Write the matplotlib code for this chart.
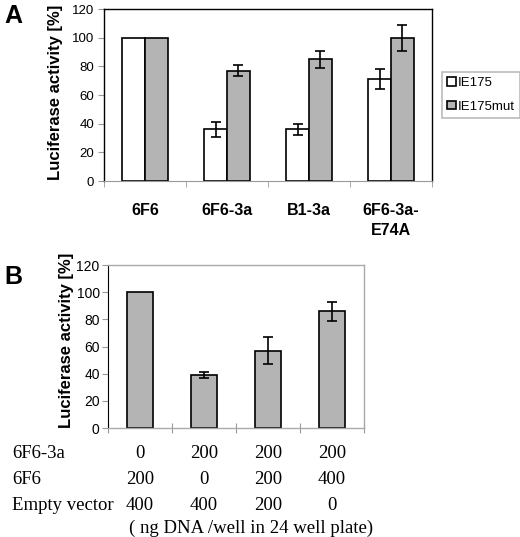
import numpy as np
import matplotlib
matplotlib.use('Agg')
import matplotlib.pyplot as plt

# panel A data
cats_a = ['6F6', '6F6-3a', 'B1-3a', '6F6-3a-\nE74A']
ie175 = [100, 36, 36, 71]
ie175_err = [0, 5, 4, 7]
ie175mut = [100, 77, 85, 100]
ie175mut_err = [0, 4, 6, 9]

# panel B data
vals_b = [100, 39, 57, 86]
err_b = [0, 2, 10, 7]
row_names = ['6F6-3a', '6F6', 'Empty vector']
row_3a = ['0', '200', '200', '200']
row_6f6 = ['200', '0', '200', '400']
row_empty = ['400', '400', '200', '0']
note = '( ng DNA /well in 24 well plate)'

GREY = '#b4b4b4'
W, H = 520, 537
fig = plt.figure(figsize=(5.2, 5.37), dpi=100)
sans = ['Liberation Sans', 'DejaVu Sans']
serif = ['Liberation Serif', 'DejaVu Serif']

def box(l, t, r, b):
    return [l / W, 1 - b / H, (r - l) / W, (b - t) / H]

# ---- panel A
ax_a = fig.add_axes(box(104, 9, 432, 181))
xa = np.arange(len(cats_a))
bw = 0.28
ekw = dict(elinewidth=1.2, capthick=1.2)
ax_a.bar(xa - bw/2, ie175, bw, color='white', edgecolor='black', lw=1.2, label='IE175')
ax_a.bar(xa + bw/2, ie175mut, bw, color=GREY, edgecolor='black', lw=1.2, label='IE175mut')
m = np.array(ie175_err) > 0
ax_a.errorbar((xa - bw/2)[m], np.array(ie175)[m], yerr=np.array(ie175_err)[m],
              fmt='none', ecolor='black', capsize=3.5, **ekw)
m = np.array(ie175mut_err) > 0
ax_a.errorbar((xa + bw/2)[m], np.array(ie175mut)[m], yerr=np.array(ie175mut_err)[m],
              fmt='none', ecolor='black', capsize=3.5, **ekw)
ax_a.set_xlim(-0.5, 3.5)
ax_a.set_ylim(0, 120)
ax_a.set_yticks(range(0, 121, 20))
ax_a.set_xticks(xa)
ax_a.set_xticklabels(cats_a, fontsize=11.5, fontweight='bold', family=sans, linespacing=1.4)
ax_a.set_xticks(np.arange(-0.5, 4, 1), minor=True)
ax_a.tick_params(axis='x', which='major', length=0, pad=16)
ax_a.tick_params(axis='x', which='minor', length=4, color='#999999', direction='out')
ax_a.tick_params(axis='y', length=4, color='#999999', pad=3)
for lab in ax_a.get_yticklabels():
    lab.set_fontsize(9.5)
    lab.set_family(sans)
for s in ['top', 'right', 'left']:
    ax_a.spines[s].set_color('black')
    ax_a.spines[s].set_linewidth(1.0)
ax_a.spines['bottom'].set_color('#999999')
leg = ax_a.legend(loc='center left', bbox_to_anchor=(1.03, 0.5), frameon=True, fancybox=False,
                  prop={'family': sans, 'size': 9.5}, handlelength=0.65, handleheight=0.65,
                  handletextpad=0.15, borderpad=0.4, borderaxespad=0, labelspacing=0.85)
leg.get_frame().set_edgecolor('#aaaaaa')
leg.get_frame().set_linewidth(1.2)
fig.text(56 / W, 1 - 92 / H, 'Luciferase activity [%]', rotation=90, ha='center', va='center',
         fontsize=12, fontweight='bold', family=sans)
fig.text(4 / W, 1 - 16 / H, 'A', ha='left', va='center', fontsize=18, fontweight='bold', family=sans)

# ---- panel B
ax_b = fig.add_axes(box(108, 265, 364, 428))
xb = np.arange(len(vals_b))
ax_b.bar(xb, vals_b, 0.4, color=GREY, edgecolor='black', lw=1.2)
m = np.array(err_b) > 0
ax_b.errorbar(xb[m], np.array(vals_b)[m], yerr=np.array(err_b)[m], fmt='none',
              ecolor='black', capsize=3.5, **ekw)
ax_b.set_xlim(-0.5, 3.5)
ax_b.set_ylim(0, 120)
ax_b.set_yticks(range(0, 121, 20))
ax_b.set_xticks(np.arange(-0.5, 4, 1))
ax_b.set_xticklabels([])
ax_b.tick_params(axis='x', length=7, color='#999999', direction='inout')
ax_b.tick_params(axis='y', length=4, color='#999999', pad=2)
for lab in ax_b.get_yticklabels():
    lab.set_fontsize(10)
    lab.set_family(sans)
for s in ['top', 'right', 'bottom']:
    ax_b.spines[s].set_color('#aaaaaa')
    ax_b.spines[s].set_linewidth(1.0)
ax_b.spines['left'].set_color('black')
fig.text(67 / W, 1 - 340 / H, 'Luciferase activity [%]', rotation=90, ha='center', va='center',
         fontsize=12, fontweight='bold', family=sans)
fig.text(4 / W, 1 - 277 / H, 'B', ha='left', va='center', fontsize=18, fontweight='bold', family=sans)

# table under panel B
trans = matplotlib.transforms.blended_transform_factory(ax_b.transData, fig.transFigure)
rows = [row_3a, row_6f6, row_empty]
row_y = [453, 479, 505]
for name, row, yy in zip(row_names, rows, row_y):
    fig.text(12 / W, 1 - yy / H, name, ha='left', va='center', fontsize=13.5, family=serif)
    for xi, v in zip(xb, row):
        ax_b.text(xi, 1 - yy / H, v, transform=trans, ha='center', va='center',
                  fontsize=13.5, family=serif)
fig.text(251 / W, 1 - 528 / H, note, ha='center', va='center', fontsize=13.5, family=serif)

fig.savefig('out.png', dpi=100)
